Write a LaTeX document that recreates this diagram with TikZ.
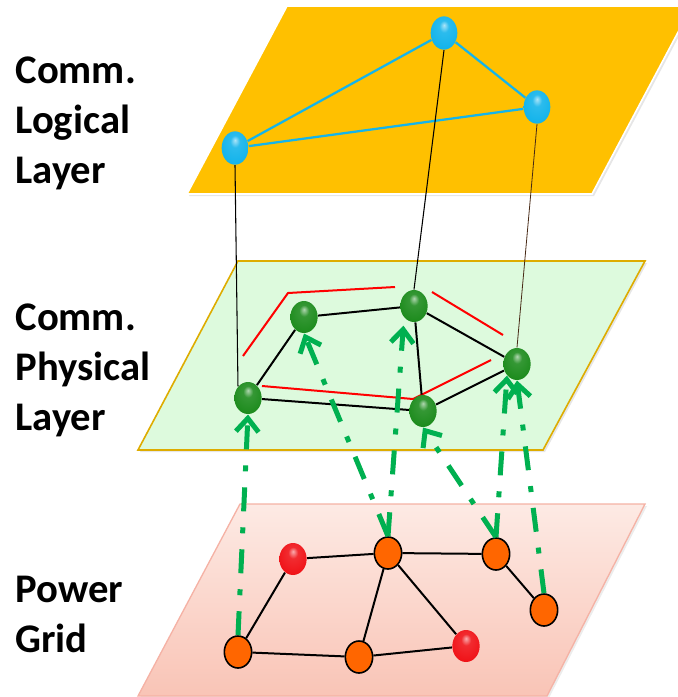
\documentclass[tikz,border=0pt]{standalone}
\usepackage{fontspec}
\setmainfont{Carlito}
\usepackage{tikz}
\usetikzlibrary{shapes.geometric, arrows.meta, shadows}
\definecolor{logicblue}{RGB}{20,180,235}
\definecolor{physgreen}{RGB}{30,140,30}
\definecolor{busred}{RGB}{240,20,25}
\definecolor{busorange}{RGB}{255,102,0}
\definecolor{flowgreen}{RGB}{0,176,80}
\definecolor{planeorange}{RGB}{255,192,0}
\definecolor{planegreen}{RGB}{221,250,221}
\definecolor{planegold}{RGB}{222,172,0}
\definecolor{planepink}{RGB}{249,196,182}
\definecolor{planepinklight}{RGB}{253,234,228}
\definecolor{planepinkedge}{RGB}{245,178,165}
\newcommand{\layerfont}{\fontsize{30.5}{37.5}\selectfont\bfseries}
% glossy ball: light spot on top, darker rim
\makeatletter
\pgfdeclareradialshading[tikz@ball]{softball}{\pgfqpoint{0bp}{12bp}}{%
  color(0bp)=(tikz@ball!35!white); color(9bp)=(tikz@ball!90!white);
  color(28bp)=(tikz@ball); color(40bp)=(tikz@ball!80!black);
  color(50bp)=(tikz@ball!55!black)}
\makeatother
\tikzset{every picture/.style={line width=0.75pt}}
\tikzset{
  ball/.style={ellipse, inner sep=0pt, minimum width=20.5pt, minimum height=24pt},
  logicnode/.style={ball, ball color=logicblue, shading=softball, minimum width=20pt, minimum height=25pt},
  physnode/.style={ball, ball color=physgreen, shading=softball},
  busnode/.style={ball, fill=busorange, draw=black, line width=1.2pt},
  loadnode/.style={ball, ball color=busred, shading=softball},
  logiclink/.style={draw=logicblue, line width=1.7pt},
  link/.style={draw=black, line width=1.5pt},
  maplink/.style={draw=black, line width=0.8pt},
  route/.style={draw=red, line width=1.5pt},
  flow/.style={draw=flowgreen, line width=3.75pt, dash pattern=on 18pt off 12pt on 4.5pt off 12pt,
    -{Straight Barb[length=10pt,width=17pt]}}
}

\begin{document}
\begin{tikzpicture}[x=0.75pt,y=0.75pt,yscale=-1,xscale=1]
\path[use as bounding box] (0,0) rectangle (678,697);

%Shape: Parallelogram [power grid plane]
\draw [draw=planepinkedge, line width=1pt, top color=planepinklight, bottom color=planepink, drop shadow={opacity=0.15, shadow xshift=1.5pt, shadow yshift=-1.5pt}]
  (240,504) -- (645,504) -- (547,696) -- (138,696) -- cycle ;
%Shape: Parallelogram [physical plane]
\draw [draw=planegold, line width=1.2pt, fill=planegreen, drop shadow={opacity=0.2, shadow xshift=1.5pt, shadow yshift=-1.5pt}]
  (238,261) -- (645,261) -- (543,450) -- (138,450) -- cycle ;
%Shape: Parallelogram [logical plane]
\draw [draw=white, line width=1.2pt, fill=planeorange, drop shadow={opacity=0.2, shadow xshift=1.5pt, shadow yshift=-1.5pt}]
  (287,6) -- (692,6) -- (592,194) -- (187,194) -- cycle ;

% Text Node
\draw (15,183) node [anchor=base west][inner sep=0pt][font=\layerfont][align=left] (logiclabel) {Comm.\\Logical\\Layer};
% Text Node
\draw (15,430) node [anchor=base west][inner sep=0pt][font=\layerfont][align=left] (physlabel) {Comm.\\Physical\\Layer};
% Text Node
\draw (15,652) node [anchor=base west][inner sep=0pt][font=\layerfont][align=left] (gridlabel) {Power\\Grid};

%Red routes on the physical plane
\draw [route] (243,356) -- (288,293) -- (395,287) ;
\draw [route] (432,292) -- (503,335) ;
\draw [route] (262,386) -- (413,399) -- (491,360) ;

%Logical nodes
\node [logicnode] (la) at (235,148) {};
\node [logicnode] (lb) at (444,33) {};
\node [logicnode] (lc) at (537,107) {};
%Physical nodes
\node [physnode] (pa) at (248,398) {};
\node [physnode] (pb) at (304,317) {};
\node [physnode] (pc) at (414,306) {};
\node [physnode] (pd) at (517,364) {};
\node [physnode] (pe) at (423,411) {};
%Grid nodes
\node [loadnode] (ga) at (293,559) {};
\node [busnode] (gb) at (388,553) {};
\node [busnode] (gc) at (496,554) {};
\node [busnode] (gd) at (544,610) {};
\node [busnode] (ge) at (238,652) {};
\node [busnode] (gf) at (359,657) {};
\node [loadnode] (gg) at (466,646) {};

%Logical links
\draw [logiclink] (la) -- (lb) ;
\draw [logiclink] (lb) -- (lc) ;
\draw [logiclink] (la) -- (lc) ;
%Logical to physical
\draw [maplink] (la.south) -- (pa.north west) ;
\draw [maplink] (lb.south) -- (pc.north) ;
\draw [maplink, draw={rgb,255:red,70;green,40;blue,20}, line width=0.6pt] (lc.south) -- (pd.north) ;
%Physical links
\draw [link] (pa) -- (pb) ;
\draw [link] (pb) -- (pc) ;
\draw [link] (pc) -- (pd) ;
\draw [link] (pd) -- (pe) ;
\draw [link] (pe) -- (pa) ;
\draw [link] (pc) -- (pe) ;
%Grid lines
\draw [link] (ge) -- (ga) ;
\draw [link] (ga) -- (gb) ;
\draw [link] (gb) -- (gc) ;
\draw [link] (gc) -- (gd) ;
\draw [link] (ge) -- (gf) ;
\draw [link] (gf) -- (gg) ;
\draw [link] (gb) -- (gf) ;
\draw [link] (gb) -- (gg) ;

%Grid to physical mapping
\draw [flow] (ge.north) -- (pa.south) ;
\draw [flow] (gb.north) -- (pb.south) ;
\draw [flow, shorten >=6pt] (gb.north) -- (pc.south west) ;
\draw [flow] (gc.north) -- (pe.south) ;
\draw [flow] (gc.north) -- (pd.south west) ;
\draw [flow] (gd.north) -- (pd.south) ;

\end{tikzpicture}
\end{document}
